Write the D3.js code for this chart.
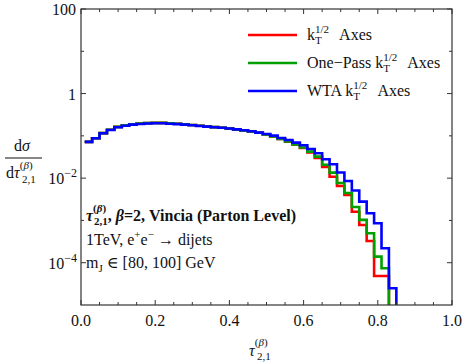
<!DOCTYPE html>
<html>
<head>
<meta charset="utf-8">
<script src="https://cdn.jsdelivr.net/npm/d3@7"></script>
<style>
  body { margin: 0; background: #fff; }
  svg, text, tspan { font-family: "Liberation Serif", "Times New Roman", Tinos, "DejaVu Serif", serif; }
  text { fill: #111; }
</style>
</head>
<body>
<svg id="chart" width="463" height="362" font-family="Liberation Serif, Times New Roman, DejaVu Serif, serif"></svg>
<script>
// bin centres (width 0.02)
const binCenters = d3.range(1, 43).map((i) => +(i * 0.02).toFixed(2));

const wtaValues = [
  0.072, 0.088, 0.115, 0.138, 0.160, 0.174, 0.184, 0.191, 0.196, 0.199,
  0.199, 0.194, 0.189, 0.184, 0.178, 0.171, 0.165, 0.160, 0.155, 0.149,
  0.142, 0.136, 0.128, 0.119, 0.111, 0.101, 0.089, 0.080, 0.069, 0.060,
  0.049, 0.0387, 0.0279, 0.0213, 0.0136, 0.00857, 0.00511, 0.00278, 0.00148, 0.000857,
  0.00022, 0.0000249
];
const onePassValues = [
  0.072, 0.088, 0.116, 0.140, 0.163, 0.178, 0.188, 0.195, 0.200, 0.203,
  0.203, 0.198, 0.193, 0.188, 0.181, 0.174, 0.167, 0.161, 0.155, 0.149,
  0.142, 0.135, 0.127, 0.118, 0.108, 0.0968, 0.0844, 0.0736, 0.0625, 0.0531,
  0.0423, 0.0322, 0.0208, 0.0135, 0.00769, 0.00446, 0.00208, 0.00103, 0.000497, 0.000139,
  0.0000739
];
const ktValues = [
  0.072, 0.088, 0.116, 0.140, 0.163, 0.178, 0.188, 0.195, 0.200, 0.203,
  0.203, 0.198, 0.193, 0.188, 0.181, 0.174, 0.167, 0.161, 0.155, 0.149,
  0.142, 0.135, 0.127, 0.118, 0.108, 0.0965, 0.084, 0.073, 0.0615, 0.0517,
  0.0405, 0.030, 0.0184, 0.0108, 0.00653, 0.0040, 0.00161, 0.00078, 0.000327, 0.0000486,
  0.0000486
];

const series = [
  { name: "kt", color: "#ff0000", values: ktValues },
  { name: "onepass", color: "#00a000", values: onePassValues },
  { name: "wta", color: "#0000ff", values: wtaValues }
];

const yMajorTicks = [100, 1, 1e-2, 1e-4];
const yMinorTicks = [10, 0.1, 1e-3];

const svg = d3.select("#chart");
const plotL = 81, plotR = 452, plotT = 9, plotB = 305;

const x = d3.scaleLinear().domain([0, 1]).range([plotL, plotR]);
const y = d3.scaleLog().domain([1e-5, 100]).range([plotB, plotT]);

svg.append("clipPath").attr("id", "plotclip")
  .append("rect")
  .attr("x", plotL).attr("y", plotT)
  .attr("width", plotR - plotL).attr("height", plotB - plotT);

// histogram step lines
const line = d3.line()
  .x((d) => x(d[0]))
  .y((d) => y(d[1]))
  .curve(d3.curveStepAfter);

series.forEach((s) => {
  const pts = s.values.map((v, i) => [binCenters[i] - 0.01, v]);
  const n = s.values.length;
  const endEdge = binCenters[n - 1] + 0.01;
  pts.push([endEdge, s.values[n - 1]]);
  pts.push([endEdge, 1e-7]);
  svg.append("path")
    .attr("clip-path", "url(#plotclip)")
    .attr("d", line(pts))
    .attr("fill", "none")
    .attr("stroke", s.color)
    .attr("stroke-width", 2.6)
    .attr("stroke-linejoin", "miter");
});

// frame
svg.append("rect")
  .attr("x", plotL).attr("y", plotT)
  .attr("width", plotR - plotL).attr("height", plotB - plotT)
  .attr("fill", "none").attr("stroke", "#333").attr("stroke-width", 1.2);

// x ticks (inward, top and bottom)
const xMinor = d3.range(0, 21).map((i) => i * 0.05);
const xTicks = svg.append("g").attr("stroke", "#333").attr("stroke-width", 1);
xMinor.forEach((t, i) => {
  const len = i % 4 === 0 ? 5 : 3;
  xTicks.append("line").attr("x1", x(t)).attr("x2", x(t))
    .attr("y1", plotB).attr("y2", plotB - len);
  xTicks.append("line").attr("x1", x(t)).attr("x2", x(t))
    .attr("y1", plotT).attr("y2", plotT + len);
});

const xLabels = [0, 0.2, 0.4, 0.6, 0.8, 1.0];
svg.append("g").selectAll("text").data(xLabels).enter().append("text")
  .attr("x", (d) => x(d)).attr("y", 326)
  .attr("text-anchor", "middle").attr("font-size", 16)
  .text((d) => d.toFixed(1));

// y ticks (inward, left and right)
const yTicks = svg.append("g").attr("stroke", "#333").attr("stroke-width", 1);
yMajorTicks.concat(yMinorTicks).forEach((t) => {
  const len = yMajorTicks.includes(t) ? 5 : 3;
  yTicks.append("line").attr("x1", plotL).attr("x2", plotL + len)
    .attr("y1", y(t)).attr("y2", y(t));
  yTicks.append("line").attr("x1", plotR).attr("x2", plotR - len)
    .attr("y1", y(t)).attr("y2", y(t));
});

const yLab = svg.append("g").attr("font-size", 16).attr("text-anchor", "end");
yLab.append("text").attr("x", 76).attr("y", y(100) + 6).text("100");
yLab.append("text").attr("x", 76).attr("y", y(1) + 6).text("1");
[[1e-2, "\u22122"], [1e-4, "\u22124"]].forEach(([v, e]) => {
  const t = yLab.append("text").attr("x", 77).attr("y", y(v) + 6);
  t.append("tspan").text("10");
  t.append("tspan").attr("dy", -7).attr("font-size", 12).text(e);
});

// y axis label as fraction
const ylab = svg.append("g").attr("font-size", 16);
const num = ylab.append("text").attr("x", 22).attr("y", 151).attr("text-anchor", "middle");
num.append("tspan").text("d");
num.append("tspan").attr("font-style", "italic").text("σ");
ylab.append("line").attr("x1", 5).attr("x2", 42).attr("y1", 158).attr("y2", 158)
  .attr("stroke", "#111").attr("stroke-width", 1);
const den = ylab.append("text").attr("x", 6).attr("y", 178);
den.append("tspan").text("d");
den.append("tspan").attr("font-style", "italic").text("τ");
den.append("tspan").attr("font-size", 11).attr("dy", -9).text("(");
den.append("tspan").attr("font-size", 11).attr("font-style", "italic").text("β");
den.append("tspan").attr("font-size", 11).text(")");
den.append("tspan").attr("font-size", 11).attr("x", 22).attr("dy", 14).text("2,1");

// x axis label
const xl = svg.append("text").attr("x", 249).attr("y", 356).attr("font-size", 16);
xl.append("tspan").attr("font-style", "italic").text("τ");
xl.append("tspan").attr("font-size", 11).attr("dy", -10).text("(");
xl.append("tspan").attr("font-size", 11).attr("font-style", "italic").text("β");
xl.append("tspan").attr("font-size", 11).text(")");
xl.append("tspan").attr("font-size", 11).attr("x", 257).attr("dy", 14).text("2,1");

// legend
const legendNames = [
  ["", "k", "1/2", "T", " Axes"],
  ["One\u2212Pass ", "k", "1/2", "T", " Axes"],
  ["WTA ", "k", "1/2", "T", " Axes"]
];
const legendY = [35, 63, 91];
series.forEach((s, i) => {
  svg.append("line").attr("x1", 248).attr("x2", 297)
    .attr("y1", legendY[i]).attr("y2", legendY[i])
    .attr("stroke", s.color).attr("stroke-width", 2.6);
  const [pre, k, sup, sub, post] = legendNames[i];
  const t = svg.append("text").attr("x", 307).attr("y", legendY[i] + 5).attr("font-size", 16);
  if (pre) t.append("tspan").text(pre);
  t.append("tspan").text(k);
  const kEnd = t.node().getComputedTextLength();
  t.append("tspan").attr("font-size", 11).attr("dy", -7).text(sup);
  t.append("tspan").attr("font-size", 11).attr("x", 307 + kEnd).attr("dy", 11).text(sub);
  t.append("tspan").attr("dy", -4).attr("x", 307 + kEnd + 21).text(post);
});

// annotation
const a1 = svg.append("text").attr("x", 86).attr("y", 221).attr("font-size", 16).attr("font-weight", "bold");
a1.append("tspan").attr("font-style", "italic").text("τ");
a1.append("tspan").attr("font-size", 11).attr("dy", -9).text("(");
a1.append("tspan").attr("font-size", 11).attr("font-style", "italic").text("β");
a1.append("tspan").attr("font-size", 11).text(")");
a1.append("tspan").attr("font-size", 11).attr("x", 94).attr("dy", 13).text("2,1");
a1.append("tspan").attr("dy", -4).text(",  ");
a1.append("tspan").attr("font-style", "italic").text("β");
a1.append("tspan").text("=2,  Vincia (Parton Level)");

const a2 = svg.append("text").attr("x", 86).attr("y", 245).attr("font-size", 16);
a2.append("tspan").text("1TeV,  e");
a2.append("tspan").attr("font-size", 11).attr("dy", -7).text("+");
a2.append("tspan").attr("dy", 7).text("e");
a2.append("tspan").attr("font-size", 11).attr("dy", -7).text("\u2212");
a2.append("tspan").attr("dy", 7).text(" \u2192 dijets");

const a3 = svg.append("text").attr("x", 86).attr("y", 268).attr("font-size", 16);
a3.append("tspan").text("m");
a3.append("tspan").attr("font-size", 11).attr("dy", 4).text("J");
a3.append("tspan").attr("dy", -4).text(" \u2208 [80, 100] GeV");
</script>
</body>
</html>
